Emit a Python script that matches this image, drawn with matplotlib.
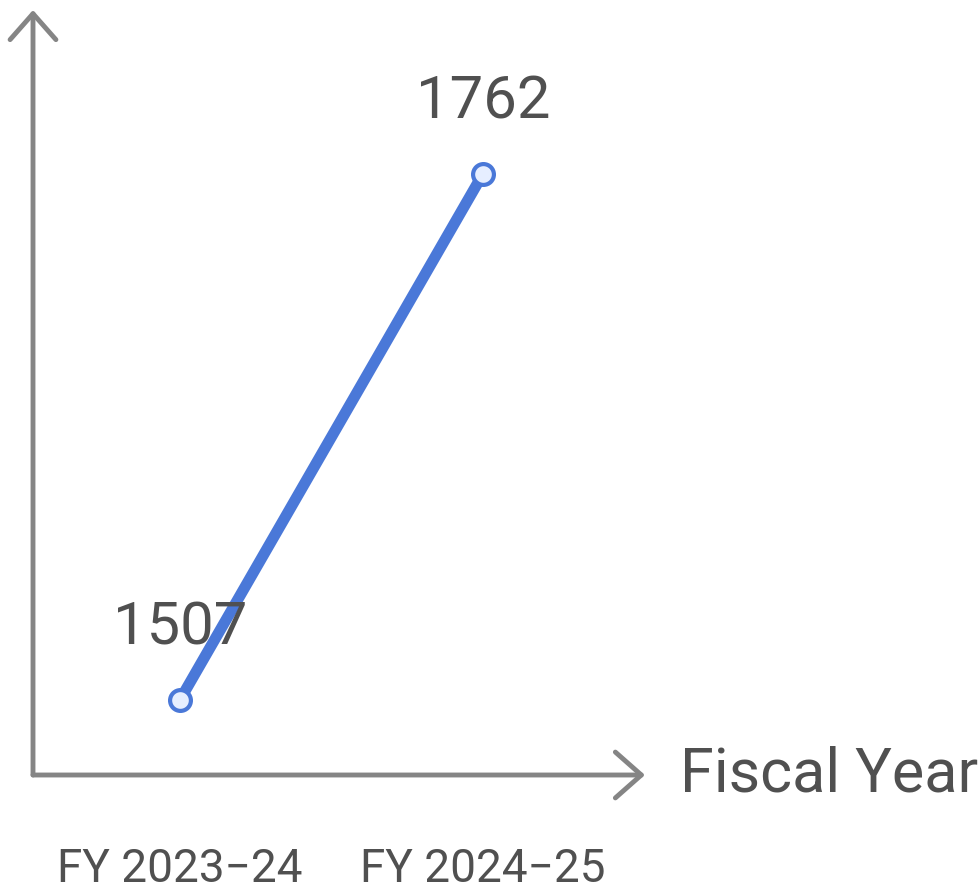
import matplotlib.pyplot as plt

plt.rcParams['font.family'] = ['Roboto', 'DejaVu Sans']

years = ['FY 2023\u221224', 'FY 2024\u221225']
values = [1507, 1762]

axis_color = '#858585'
text_color = '#505050'
line_color = '#4a78d8'

fig = plt.figure(figsize=(9.8, 8.9), dpi=100)
ax = fig.add_axes([33 / 980, 115 / 890, 612 / 980, 765 / 890])

x = list(range(len(years)))
ax.plot(x, values, color=line_color, lw=8, solid_capstyle='round', zorder=3,
        marker='o', markersize=15, markerfacecolor='#e6eeff',
        markeredgecolor=line_color, markeredgewidth=3)

for xi, v in zip(x, values):
    ax.annotate(str(v), (xi, v), xytext=(0, 40), textcoords='offset points',
                ha='center', va='baseline', fontsize=43, color=text_color)

ax.set_xlim(-0.485, 1.535)
ax.set_ylim(1470.6, 1841.5)

for s in ax.spines.values():
    s.set_visible(False)

# axes drawn as arrows
arrow = dict(arrowstyle='->,head_length=0.85,head_width=0.75', color=axis_color,
             lw=3.5, shrinkA=0, shrinkB=0, mutation_scale=22,
             capstyle='round', joinstyle='round')
ax.annotate('', xy=(1, 0), xytext=(0, 0), xycoords='axes fraction', arrowprops=arrow)
ax.annotate('', xy=(0, 1), xytext=(0, 0), xycoords='axes fraction', arrowprops=arrow)

ax.set_xticks(x)
ax.set_xticklabels(years, fontsize=33, color=text_color)
ax.tick_params(axis='x', length=0, pad=52)
ax.set_yticks([])

ax.text(1.057, 0, 'Fiscal Year', transform=ax.transAxes, ha='left', va='center',
        fontsize=44, color=text_color)

fig.savefig('out.png', dpi=100)
